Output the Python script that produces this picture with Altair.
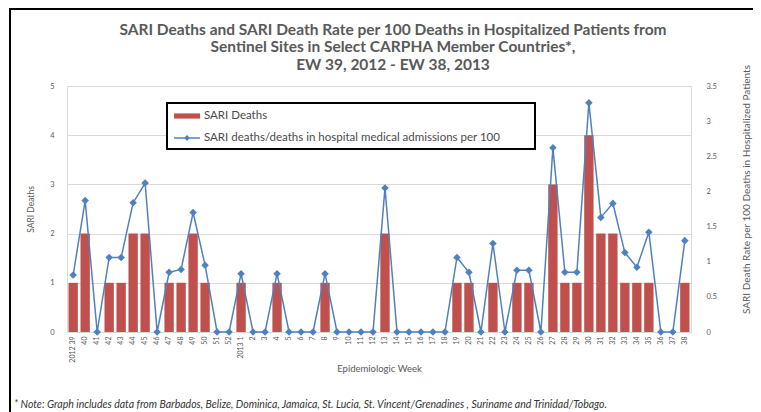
import altair as alt
import pandas as pd

BAR_NAME = "SARI Deaths"
LINE_NAME = "SARI deaths/deaths in hospital medical admissions per 100"

week_labels = [
    "2012 39", "40", "41", "42", "43", "44", "45", "46", "47", "48", "49", "50", "51", "52",
    "2013 1", "2", "3", "4", "5", "6", "7", "8", "9", "10", "11", "12", "13", "14", "15",
    "16", "17", "18", "19", "20", "21", "22", "23", "24", "25", "26", "27", "28", "29",
    "30", "31", "32", "33", "34", "35", "36", "37", "38",
]

sari_deaths = [
    1, 2, 0, 1, 1, 2, 2, 0, 1, 1, 2, 1, 0, 0,
    1, 0, 0, 1, 0, 0, 0, 1, 0, 0, 0, 0, 2, 0, 0,
    0, 0, 0, 1, 1, 0, 1, 0, 1, 1, 0, 3, 1, 1,
    4, 2, 2, 1, 1, 1, 0, 0, 1,
]

death_rate = [
    0.81, 1.87, 0, 1.06, 1.06, 1.84, 2.12, 0, 0.85, 0.89, 1.70, 0.95, 0, 0,
    0.83, 0, 0, 0.83, 0, 0, 0, 0.83, 0, 0, 0, 0, 2.05, 0, 0,
    0, 0, 0, 1.06, 0.85, 0, 1.26, 0, 0.88, 0.88, 0, 2.62, 0.85, 0.85,
    3.26, 1.63, 1.83, 1.13, 0.92, 1.42, 0, 0, 1.30,
]

left_ticks = [0, 1, 2, 3, 4, 5]
right_ticks = [0, 0.5, 1, 1.5, 2, 2.5, 3, 3.5]

title_lines = [
    "SARI Deaths and SARI Death Rate per 100 Deaths in Hospitalized Patients from",
    "Sentinel Sites in Select CARPHA Member Countries*,",
    "EW 39, 2012 - EW 38, 2013",
]
note_text = ("* Note: Graph includes data from Barbados, Belize, Dominica, Jamaica, St. Lucia, "
             "St. Vincent/Grenadines , Suriname and Trinidad/Tobago.")

RED = "#c0504d"
BLUE = "#4f81bd"
GRAY = "#595959"

df = pd.DataFrame({
    "week": week_labels,
    "deaths": sari_deaths,
    "rate": death_rate,
    "s_bar": BAR_NAME,
    "s_line": LINE_NAME,
})
note_df = pd.DataFrame({"t": [note_text]})

W, H = 624, 246

common_legend = dict(
    title=None, orient="none", legendX=106, direction="vertical",
    symbolSize=676, labelFontSize=11.5, labelFont="Lato", labelColor="#4a4a4a",
    labelLimit=500, padding=0, labelOffset=3, symbolStrokeWidth=1.5,
    symbolOpacity=1,
)
bar_legend = alt.Legend(
    legendY=16, symbolType="M-1,-0.2H1V0.2H-1Z", symbolFillColor=RED,
    **common_legend,
)
line_legend = alt.Legend(
    legendY=38, symbolType="M-1,0H1M-0.15,0L0,-0.15L0.15,0L0,0.15Z",
    symbolFillColor=BLUE, symbolStrokeColor=BLUE, **common_legend,
)

x_enc = alt.X(
    "week:N", sort=week_labels,
    scale=alt.Scale(paddingInner=0.22, paddingOuter=0.125),
    axis=alt.Axis(
        title="Epidemiologic Week", labelAngle=270, labelFontSize=7, labelColor=GRAY,
        labelPadding=4, ticks=False, domain=True, domainColor="#d9d9d9",
        titleFontSize=9.5, titleColor=GRAY, titleFontWeight="normal", titleY=36,
        titleBaseline="middle",
    ),
)

frame = alt.Chart(note_df).mark_rect(fillOpacity=0, stroke="black", strokeWidth=2).encode(
    x=alt.value(-57), x2=alt.value(900), y=alt.value(-77), y2=alt.value(700)
)

legend_box = alt.Chart(note_df).mark_rect(fill="white", stroke="black", strokeWidth=2).encode(
    x=alt.value(100), x2=alt.value(468), y=alt.value(17), y2=alt.value(63)
)

bars = alt.Chart(df).mark_bar().encode(
    x=x_enc,
    y=alt.Y("deaths:Q", scale=alt.Scale(domain=[0, 5]), axis=alt.Axis(
        title="SARI Deaths", values=left_ticks, grid=True, gridColor="#d9d9d9",
        domain=False, ticks=False, labelPadding=13, labelFontSize=7.5, labelColor=GRAY,
        titleFontSize=8.5, titleColor=GRAY, titleFontWeight="normal", titleX=-37,
        titleY=H / 2, titleAngle=270, titleAlign="center", titleBaseline="middle",
    )),
    fill=alt.Fill("s_bar:N", scale=alt.Scale(domain=[BAR_NAME], range=[RED]), legend=bar_legend),
)

line = alt.Chart(df).mark_line(
    strokeWidth=1.5,
    point=alt.OverlayMarkDef(shape="diamond", size=22, filled=True, fill=BLUE, stroke=BLUE),
).encode(
    x=x_enc,
    y=alt.Y("rate:Q", scale=alt.Scale(domain=[0, 3.5]), axis=alt.Axis(
        orient="right", title="SARI Death Rate per 100 Deaths in Hospitalized Patients",
        values=right_ticks, format="~g", grid=False, domain=False, ticks=False,
        labelPadding=15, labelFontSize=7.5, labelColor=GRAY,
        titleFontSize=10, titleColor=GRAY, titleFontWeight="normal", titleX=55,
        titleY=103, titleAngle=270, titleAlign="center", titleBaseline="middle",
    )),
    stroke=alt.Stroke("s_line:N", scale=alt.Scale(domain=[LINE_NAME], range=[BLUE]), legend=line_legend),
)

note = alt.Chart(note_df).mark_text(
    align="left", baseline="middle", fontStyle="italic", fontSize=10.5, font="Lato",
    color="#333333",
).encode(text="t:N", x=alt.value(-53), y=alt.value(319))

chart = alt.layer(frame, bars, line, legend_box, note).resolve_scale(y="independent").properties(
    width=W, height=H,
    autosize=alt.AutoSizeParams(type="none"),
    padding={"left": 59, "top": 78, "right": 62, "bottom": 80},
    title=alt.Title(
        text=title_lines, font="Lato", fontSize=15.5, fontWeight="bold", color=GRAY,
        anchor="middle", dx=14, offset=0, dy=65, lineHeight=17.5, frame="group",
    ),
).configure_view(stroke=None).configure(font="Lato")

chart.save("out.html", embed_options={"renderer": "svg", "actions": False})
